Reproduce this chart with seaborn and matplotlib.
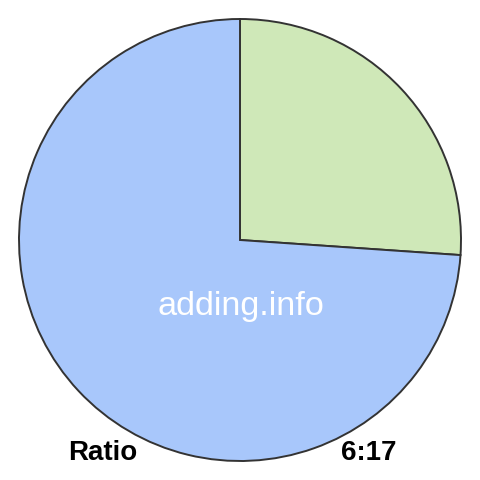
import matplotlib
matplotlib.use("Agg")
from matplotlib import pyplot as plt
import seaborn as sns

# data
labels = ["6", "17"]
values = [6, 17]
colors = ["#cfe8b8", "#a8c7fb"]
left_label = "Ratio"
right_label = "6:17"
watermark = "adding.info"

sns.set_style("white")
plt.rcParams["font.family"] = ["Liberation Sans", "DejaVu Sans"]

fig = plt.figure(figsize=(4.8, 4.8), dpi=100)
ax = fig.add_axes([0, 0, 1, 1])
r = 221
ax.pie(values, colors=colors, startangle=90, counterclock=False, radius=r,
       wedgeprops=dict(edgecolor="#333333", linewidth=1.4))
ax.set_xlim(-240, 240)
ax.set_ylim(-240, 240)
ax.set_aspect("equal")
ax.axis("off")

ax.text(1, -75, watermark, color="white", fontsize=24.7, ha="center", va="baseline")
fig.text(68 / 480, 20 / 480, left_label, color="black", fontsize=20, fontweight="bold",
         ha="left", va="baseline")
fig.text(397 / 480, 20 / 480, right_label, color="black", fontsize=20, fontweight="bold",
         ha="right", va="baseline")

fig.savefig("out.png", dpi=100, facecolor="white")
